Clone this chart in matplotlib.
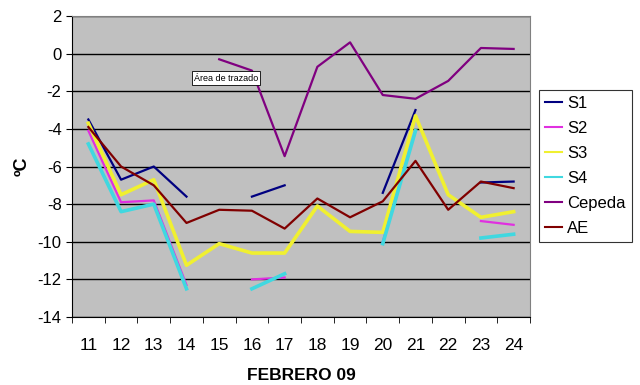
import numpy as np
import matplotlib
matplotlib.use("Agg")
import matplotlib.pyplot as plt

nan = np.nan
days = ["11", "12", "13", "14", "15", "16", "17", "18", "19", "20", "21", "22", "23", "24"]
s1 = [-3.5, -6.7, -6.0, -7.6, nan, -7.6, -7.0, nan, nan, -7.4, -3.0, nan, -6.85, -6.8]
s2 = [-4.1, -7.9, -7.8, -12.3, nan, -12.0, -11.9, nan, nan, -10.0, -4.1, nan, -8.9, -9.1]
s3 = [-3.7, -7.5, -6.7, -11.25, -10.1, -10.6, -10.6, -8.1, -9.45, -9.5, -3.3, -7.5, -8.7, -8.4]
s4 = [-4.8, -8.4, -8.0, -12.5, nan, -12.5, -11.7, nan, nan, -10.1, -4.1, nan, -9.8, -9.6]
cepeda = [nan, nan, nan, nan, -0.3, -0.9, -5.45, -0.7, 0.6, -2.2, -2.4, -1.45, 0.3, 0.25]
ae = [-3.9, -6.0, -7.0, -9.0, -8.3, -8.35, -9.3, -7.7, -8.7, -7.85, -5.7, -8.3, -6.8, -7.15]

plt.rcParams['font.family'] = ['Liberation Sans', 'DejaVu Sans']

fig = plt.figure(figsize=(6.4, 3.85), dpi=100)
ax = fig.add_axes([0.1125, 0.1766, 0.7156, 0.7818])
ax.set_facecolor("#C0C0C0")

x = np.arange(len(days))
series = [
    ("S1", s1, "#000080", 1.6),
    ("S2", s2, "#E030E0", 1.6),
    ("S3", s3, "#F0F030", 2.6),
    ("S4", s4, "#40D8E0", 2.6),
    ("Cepeda", cepeda, "#800080", 1.6),
    ("AE", ae, "#800000", 1.6),
]
handles = []
for name, vals, col, lw in series:
    h, = ax.plot(x, vals, color=col, lw=lw, label=name)
    handles.append(h)

ax.set_xlim(-0.5, len(days) - 0.5)
ax.set_ylim(-14, 2)
ax.set_yticks(np.arange(-14, 3, 2))
ax.set_yticklabels([str(v) for v in range(-14, 3, 2)], fontsize=12)
ax.set_xticks(x)
ax.set_xticklabels(days, fontsize=12.5)
ax.tick_params(axis='x', length=0, pad=15)
ax.set_xticks(np.arange(-0.5, len(days), 1), minor=True)
ax.tick_params(axis='x', which='minor', length=4, direction='out')
ax.tick_params(axis='y', length=4, direction='out')
ax.grid(axis='y', color='black', lw=1)
ax.set_axisbelow(True)
for s in ['top', 'right']:
    ax.spines[s].set_color('#808080')
for s in ['left', 'bottom']:
    ax.spines[s].set_color('black')

ax.set_xlabel("FEBRERO 09", fontsize=12.5, fontweight='bold', labelpad=11)
ax.set_ylabel("ºC", fontsize=13, fontweight='bold', labelpad=5)

ax.text(0.266, 0.794, "Área de trazado", transform=ax.transAxes, fontsize=6.5,
        va='center', ha='left',
        bbox=dict(facecolor='white', edgecolor='black', lw=0.6, pad=1.5))

leg = fig.legend(handles=handles, loc='upper left', bbox_to_anchor=(539/640, 1 - 90/385),
                 fontsize=12, frameon=True, fancybox=False, edgecolor='black',
                 handlelength=1.0, handletextpad=0.35, labelspacing=0.6,
                 borderaxespad=0, borderpad=0.35)
leg.get_frame().set_linewidth(0.8)
for lh in leg.get_lines():
    lh.set_linewidth(1.5)

fig.savefig("out.png", dpi=100)
